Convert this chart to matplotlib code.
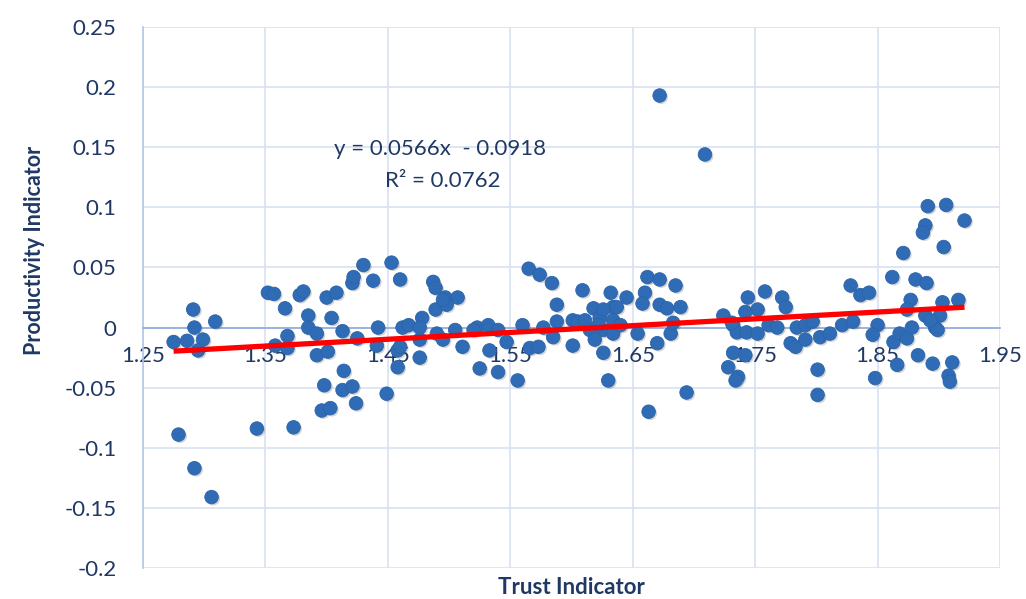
import matplotlib
matplotlib.use("Agg")
import matplotlib.pyplot as plt
import matplotlib.patheffects as pe
import numpy as np

# Trust vs productivity observations
trust = [
    1.291, 1.292, 1.309, 1.275, 1.286, 1.299, 1.295, 1.279, 1.292, 1.306,
    1.352, 1.357, 1.366, 1.378, 1.381, 1.385, 1.400, 1.408, 1.404, 1.421,
    1.422, 1.430, 1.438, 1.453, 1.385, 1.392, 1.368, 1.358, 1.368, 1.392,
    1.401, 1.413, 1.425, 1.442, 1.441, 1.458, 1.414, 1.398, 1.413, 1.421,
    1.424, 1.396, 1.403, 1.449, 1.343, 1.373,
    1.460, 1.487, 1.489, 1.497, 1.507, 1.489, 1.498, 1.462, 1.467, 1.478,
    1.476, 1.460, 1.476, 1.476, 1.458, 1.490, 1.495, 1.505, 1.511, 1.523,
    1.532, 1.533, 1.547, 1.540, 1.525, 1.556, 1.560, 1.566, 1.573, 1.565,
    1.574, 1.584, 1.588, 1.588, 1.585, 1.601, 1.601, 1.609, 1.618, 1.623,
    1.632, 1.634, 1.645, 1.626, 1.634, 1.626, 1.630, 1.634, 1.605, 1.611,
    1.637, 1.626, 1.615, 1.619, 1.640, 1.622, 1.495, 1.520, 1.540, 1.577,
    1.662, 1.672, 1.685, 1.660, 1.658, 1.672, 1.678, 1.689, 1.654, 1.670,
    1.681, 1.683, 1.694, 1.663, 1.672, 1.709,
    1.724, 1.744, 1.758, 1.772, 1.775, 1.752, 1.742, 1.732, 1.735, 1.743,
    1.752, 1.761, 1.768, 1.784, 1.791, 1.779, 1.783, 1.791, 1.732, 1.742,
    1.728, 1.736, 1.734, 1.801, 1.801, 1.731,
    1.891, 1.906, 1.921, 1.889, 1.887, 1.904, 1.871, 1.862, 1.881, 1.890,
    1.828, 1.836, 1.843, 1.877, 1.903, 1.916, 1.874, 1.889, 1.901, 1.797,
    1.803, 1.811, 1.821, 1.830, 1.850, 1.846, 1.863, 1.868, 1.874, 1.878,
    1.897, 1.899, 1.883, 1.895, 1.911, 1.866, 1.848, 1.908, 1.909, 1.893,
]
productivity = [
    0.015, 0.000, 0.005, -0.012, -0.011, -0.010, -0.019, -0.089, -0.117, -0.141,
    0.029, 0.028, 0.016, 0.027, 0.030, 0.010, 0.025, 0.029, 0.008, 0.037,
    0.042, 0.052, 0.039, 0.054, 0.000, -0.005, -0.007, -0.015, -0.017, -0.023,
    -0.020, -0.003, -0.009, 0.000, -0.015, -0.019, -0.036, -0.048, -0.052, -0.049,
    -0.063, -0.069, -0.067, -0.055, -0.084, -0.083,
    0.040, 0.038, 0.033, 0.025, 0.025, 0.015, 0.019, 0.000, 0.002, 0.008,
    0.000, -0.016, -0.010, -0.025, -0.033, -0.005, -0.010, -0.002, -0.016, 0.000,
    0.002, -0.019, -0.012, -0.037, -0.034, -0.044, 0.002, -0.017, -0.016, 0.049,
    0.044, 0.037, 0.019, 0.005, -0.008, 0.006, -0.015, 0.031, 0.016, 0.008,
    0.029, 0.017, 0.025, -0.002, -0.005, -0.021, -0.044, 0.006, 0.005, 0.006,
    0.017, 0.015, -0.002, -0.010, 0.002, 0.002, 0.023, -0.002, -0.002, 0.000,
    0.042, 0.040, 0.035, 0.029, 0.020, 0.019, 0.016, 0.017, -0.005, -0.013,
    -0.005, 0.004, -0.054, -0.070, 0.193, 0.144,
    0.010, 0.025, 0.030, 0.025, 0.017, 0.015, 0.013, 0.002, -0.004, -0.004,
    -0.005, 0.002, 0.000, 0.000, 0.002, -0.013, -0.016, -0.010, -0.021, -0.023,
    -0.033, -0.041, -0.044, -0.035, -0.056, 0.004,
    0.101, 0.102, 0.089, 0.085, 0.079, 0.067, 0.062, 0.042, 0.040, 0.037,
    0.035, 0.027, 0.029, 0.023, 0.021, 0.023, 0.015, 0.010, 0.010, 0.005,
    -0.008, -0.005, 0.002, 0.005, 0.002, -0.006, -0.012, -0.005, -0.009, 0.000,
    0.000, -0.002, -0.023, -0.030, -0.029, -0.031, -0.042, -0.040, -0.045, 0.006,
]

# Linear trend (slope, intercept) and fit quality
slope = 0.0566
intercept = -0.0918
r_squared = 0.0762

x_ticks = [1.25, 1.35, 1.45, 1.55, 1.65, 1.75, 1.85, 1.95]
y_ticks = [-0.2, -0.15, -0.1, -0.05, 0, 0.05, 0.1, 0.15, 0.2, 0.25]
x_tick_labels = ["1.25", "1.35", "1.45", "1.55", "1.65", "1.75", "1.85", "1.95"]
y_tick_labels = ["-0.2", "-0.15", "-0.1", "-0.05", "0", "0.05", "0.1", "0.15", "0.2", "0.25"]

plt.rcParams["font.family"] = ["Lato", "DejaVu Sans"]
text_color = "#1F3864"
grid_color = "#D9E2F1"

fig = plt.figure(figsize=(10.26, 5.99), dpi=100)
ax = fig.add_axes([143 / 1026, 1 - 568 / 599, (1000 - 143) / 1026, (568 - 27) / 599])

ax.set_xlim(1.25, 1.95)
ax.set_ylim(-0.2, 0.25)
ax.set_xticks(x_ticks)
ax.set_xticklabels(x_tick_labels)
ax.set_yticks(y_ticks)
ax.set_yticklabels(y_tick_labels)

ax.grid(True, color=grid_color, linewidth=1.2, zorder=0)
ax.set_axisbelow(True)

for side in ("top", "right"):
    ax.spines[side].set_visible(False)
ax.spines["bottom"].set_position(("data", 0))
ax.spines["bottom"].set_color("#8FAADC")
ax.spines["bottom"].set_linewidth(1.2)
ax.spines["left"].set_color("#B4C7E7")
ax.spines["left"].set_linewidth(1.2)

ax.tick_params(axis="both", length=0, labelsize=16, labelcolor=text_color)
ax.tick_params(axis="x", pad=13)
ax.tick_params(axis="y", pad=19)

pts = ax.scatter(trust, productivity, s=95, color="#2F6CB5", edgecolor="#2A64AA",
                 linewidth=0.6, zorder=3)
pts.set_path_effects([pe.SimplePatchShadow(offset=(1.2, -1.2), alpha=0.25, shadow_rgbFace="#555555"),
                      pe.Normal()])

xs = np.array([min(trust), max(trust)])
ax.plot(xs, slope * xs + intercept, color="#FF0000", linewidth=3.8,
        solid_capstyle="butt", zorder=4)

ax.text(1.4926, 0.1485, f"y = {slope}x  - {abs(intercept)}", ha="center", va="center",
        fontsize=16, color=text_color, zorder=5)
ax.text(1.495, 0.1215, f"R\u00b2 = {r_squared}", ha="center", va="center",
        fontsize=16, color=text_color, zorder=5)

fig.text(35 / 1026, 1 - 250 / 599, "Productivity Indicator", rotation=90, ha="center",
         va="center", fontsize=15.5, fontweight="bold", color=text_color)
fig.text(571 / 1026, 1 - 587 / 599, "Trust Indicator", ha="center", va="center",
         fontsize=16, fontweight="bold", color=text_color)

fig.savefig("out.png", dpi=100, facecolor="white")
